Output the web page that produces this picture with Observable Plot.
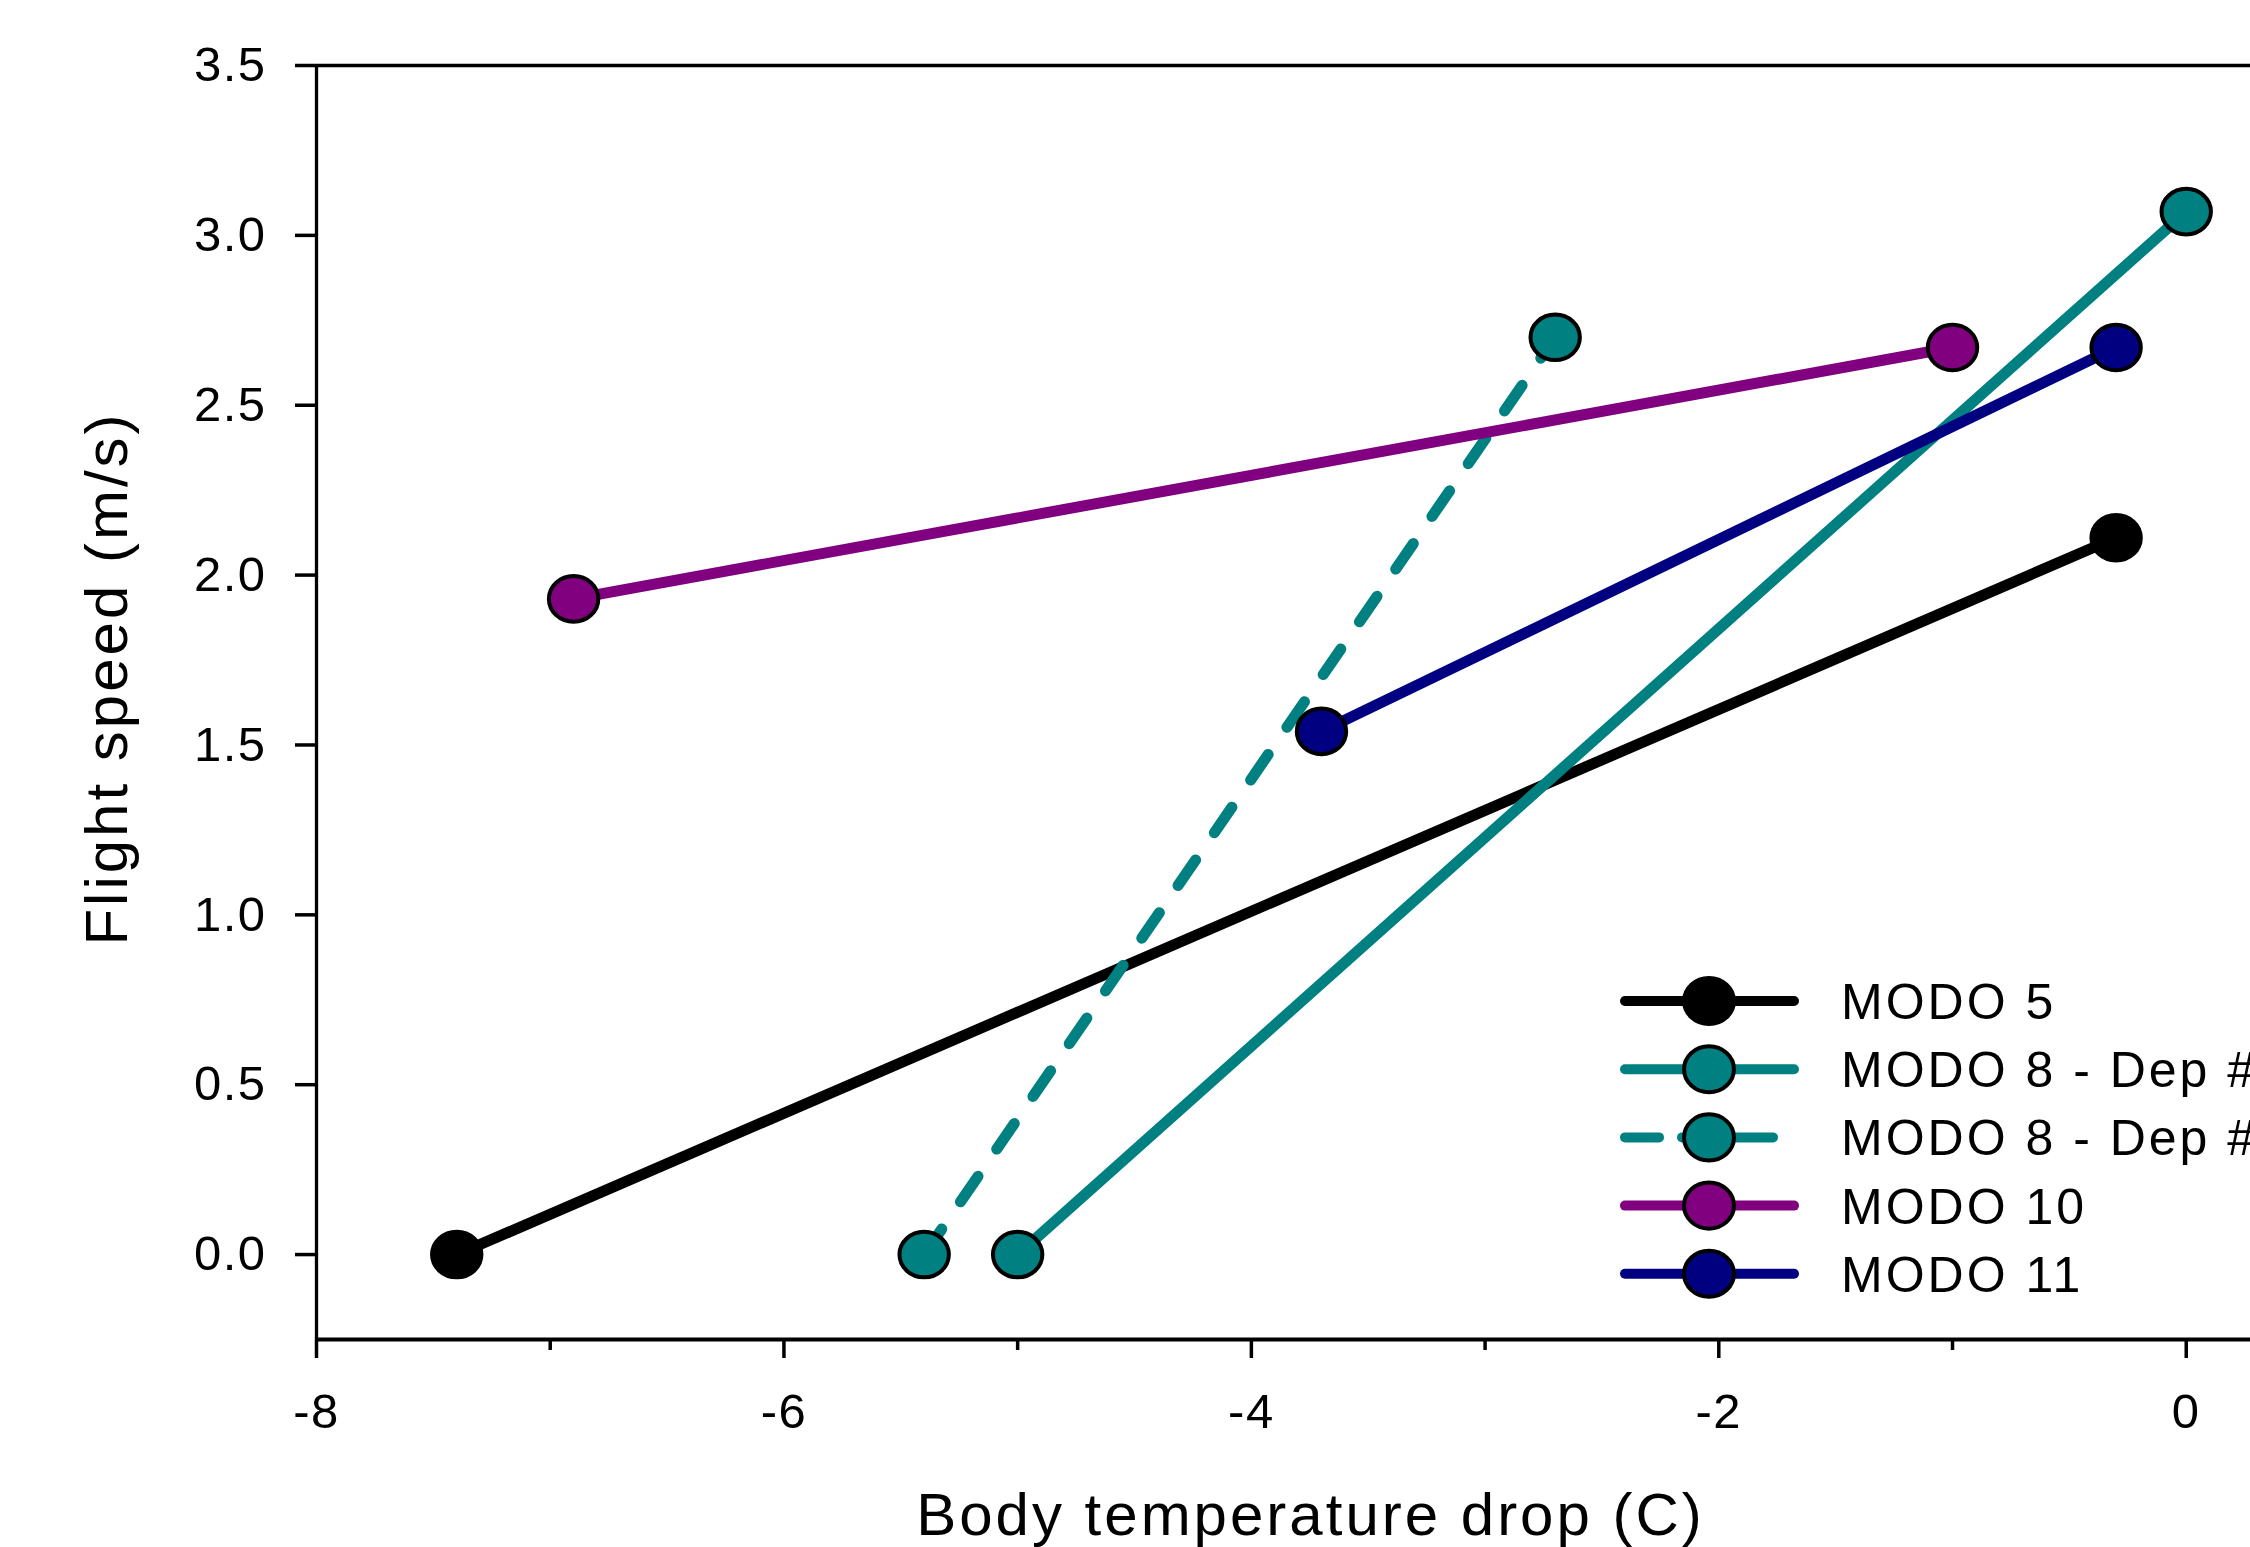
<!DOCTYPE html>
<html>
<head>
<meta charset="utf-8">
<script src="https://cdn.jsdelivr.net/npm/d3@7"></script>
<script src="https://cdn.jsdelivr.net/npm/@observablehq/plot@0.6"></script>
<style>
  html, body { margin: 0; padding: 0; background: #fff; overflow: hidden; }
  #wrap { position: relative; width: 2250px; height: 1547px; overflow: hidden; }
  #legend { position: absolute; left: 0; top: 0; pointer-events: none; }
  g[aria-label="y-axis tick label"], g[aria-label="x-axis tick label"] { letter-spacing: 1.5px; }
  g[aria-label="text"] { letter-spacing: 3px; }
  text { font-family: "Liberation Sans", Arial, sans-serif; }
</style>
</head>
<body>
<div id="wrap"></div>
<script>
// ---- data ----
const seriesNames = ["MODO 5", "MODO 8 - Dep #1", "MODO 8 - Dep #2", "MODO 10", "MODO 11"];
const tempDrop    = [[-7.4, -0.3], [-5.0, 0.0], [-5.4, -2.7], [-6.9, -1.0], [-3.7, -0.3]];
const flightSpeed = [[0.0, 2.11], [0.0, 3.07], [0.0, 2.70], [1.93, 2.67], [1.54, 2.67]];
const seriesColors = ["#000000", "#008080", "#008080", "#800080", "#000080"];
const seriesDashed = [false, false, true, false, false];
const xTicks = [-8, -6, -4, -2, 0];
const xMinorTicks = [-7, -5, -3, -1];
const yTicks = [0, 0.5, 1.0, 1.5, 2.0, 2.5, 3.0, 3.5];
const xTitle = "Body temperature drop (C)";
const yTitle = "Flight speed (m/s)";
const xDomain = [-8, 0.275];
const yDomain = [-0.25, 3.5];

// ---- table built from arrays ----
const rows = [];
seriesNames.forEach((name, i) => {
  tempDrop[i].forEach((x, j) => {
    rows.push({series: name, idx: i, x, y: flightSpeed[i][j], color: seriesColors[i]});
  });
});

// slightly wide ellipse symbol
const ellipse = {
  draw(context, size) {
    const r = Math.sqrt(size / Math.PI);
    const rx = r * 1.04, ry = r * 0.96, k = 0.5522847;
    context.moveTo(rx, 0);
    context.bezierCurveTo(rx, k * ry, k * rx, ry, 0, ry);
    context.bezierCurveTo(-k * rx, ry, -rx, k * ry, -rx, 0);
    context.bezierCurveTo(-rx, -k * ry, -k * rx, -ry, 0, -ry);
    context.bezierCurveTo(k * rx, -ry, rx, -k * ry, rx, 0);
    context.closePath();
  }
};

const LW = 11;
const DASH = "31,33";
const lineMarks = seriesNames.map((name, i) =>
  Plot.line(rows.filter(d => d.idx === i), {
    x: "x", y: "y",
    stroke: seriesColors[i],
    strokeWidth: LW,
    strokeLinecap: "round",
    strokeDasharray: seriesDashed[i] ? DASH : null
  })
);

const chart = Plot.plot({
  width: 2250,
  height: 1547,
  marginTop: 65,
  marginLeft: 316,
  marginRight: 0,
  marginBottom: 208,
  style: {fontFamily: "Liberation Sans, Arial, sans-serif", fontSize: "49px", color: "#000", background: "#fff"},
  x: {domain: xDomain},
  y: {domain: yDomain},
  color: {type: "identity"},
  marks: [
    Plot.ruleY([yDomain[1]], {strokeWidth: 3.3}),
    Plot.ruleY([yDomain[0]], {strokeWidth: 4}),
    Plot.ruleX([xDomain[0]], {strokeWidth: 3.3}),
    Plot.axisY({ticks: yTicks, tickSize: 21, tickPadding: 29, tickFormat: d3.format(".1f"),
                fontSize: 49, strokeWidth: 3.5, label: null}),
    Plot.axisX({ticks: xTicks, tickSize: 19, tickPadding: 35, tickFormat: d => String(d),
                fontSize: 49, strokeWidth: 3.5, label: null}),
    Plot.axisX({ticks: xMinorTicks, tickSize: 11, tickFormat: () => "", strokeWidth: 3.5, label: null}),
    ...lineMarks,
    Plot.dot(rows, {x: "x", y: "y", fill: "color", stroke: "#000", strokeWidth: 4, r: 23.75, symbol: ellipse}),
    Plot.text([yTitle], {text: d => d, frameAnchor: "left", rotate: -90, dx: -209, dy: -24,
                         fontSize: 60, textAnchor: "middle", lineAnchor: "middle"}),
    Plot.text([xTitle], {text: d => d, frameAnchor: "bottom", dx: 27, dy: 195,
                         fontSize: 60, textAnchor: "middle", lineAnchor: "bottom"})
  ]
});
document.getElementById("wrap").appendChild(chart);

// ---- legend (overlay) ----
const lg = d3.select("#wrap").append("svg")
  .attr("id", "legend").attr("width", 2250).attr("height", 1547);
const L = {y0: 1001, dy: 68.2, x1: 1625, x2: 1794, mx: 1709, tx: 1841};
seriesNames.forEach((name, i) => {
  const y = L.y0 + i * L.dy;
  const g = lg.append("g");
  g.append("line")
    .attr("x1", L.x1).attr("x2", seriesDashed[i] ? 1773 : L.x2)
    .attr("y1", y).attr("y2", y)
    .attr("stroke", seriesColors[i]).attr("stroke-width", 10)
    .attr("stroke-linecap", "round")
    .attr("stroke-dasharray", seriesDashed[i] ? "34,23,93,100" : null);
  const p = d3.path();
  ellipse.draw(p, Math.PI * 24 * 24);
  g.append("path").attr("d", p.toString())
    .attr("transform", `translate(${L.mx},${y})`)
    .attr("fill", seriesColors[i]).attr("stroke", "#000").attr("stroke-width", 4);
  g.append("text").attr("x", L.tx).attr("y", y).attr("dy", "0.36em")
    .attr("font-size", 50).attr("letter-spacing", "3px")
    .attr("font-family", "Liberation Sans, Arial, sans-serif")
    .attr("fill", "#000").text(name);
});
</script>
</body>
</html>
